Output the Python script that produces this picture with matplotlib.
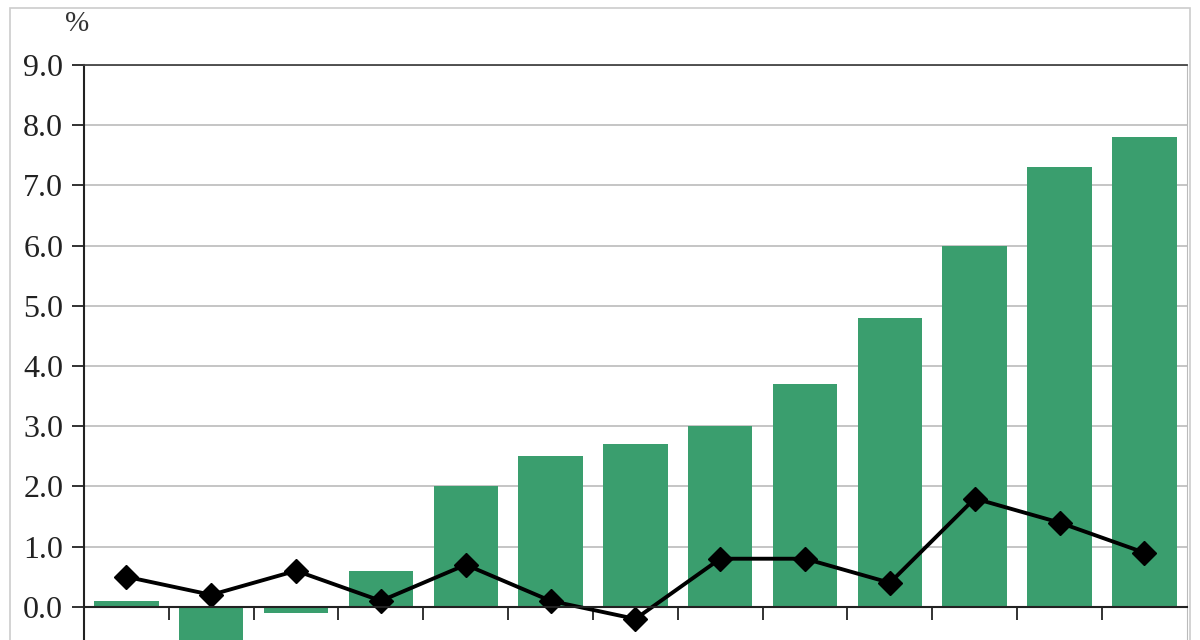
import matplotlib
matplotlib.use("Agg")
import matplotlib.pyplot as plt
from matplotlib.patches import Rectangle
import numpy as np

# 13 periods, no category labels shown on the original
periods = list(range(1, 14))
bar_values = [0.1, -0.7, -0.1, 0.6, 2.0, 2.5, 2.7, 3.0, 3.7, 4.8, 6.0, 7.3, 7.8]
line_values = [0.5, 0.2, 0.6, 0.1, 0.7, 0.1, -0.2, 0.8, 0.8, 0.4, 1.8, 1.4, 0.9]
y_ticks = [0.0, 1.0, 2.0, 3.0, 4.0, 5.0, 6.0, 7.0, 8.0, 9.0]

plt.rcParams['font.family'] = ['Liberation Serif', 'DejaVu Serif']

fig = plt.figure(figsize=(12, 6.4), dpi=100)
ax = fig.add_axes([0.07, 0.0, 0.919, 0.8984])

x = np.arange(len(periods))
ax.bar(x, bar_values, width=0.76, color='#3a9e6e', zorder=2)
ax.plot(x, line_values, color='black', lw=2.8, marker='D', markersize=12, zorder=3)

ax.set_xlim(-0.5, len(periods) - 0.5)
ax.set_ylim(-0.55, 9.0)
ax.set_yticks(y_ticks)
ax.set_yticklabels(['{:.1f}'.format(v) for v in y_ticks], fontsize=23, color='#222222')
ax.yaxis.grid(True, color='#bbbbbb', lw=1.2, zorder=0)
ax.set_axisbelow(True)

# x axis sits on zero, ticks between categories pointing down
ax.spines['bottom'].set_position(('data', 0))
ax.spines['bottom'].set_color('#222222')
ax.spines['bottom'].set_linewidth(1.5)
ax.spines['bottom'].set_zorder(4)
ax.set_xticks(np.arange(0.5, len(periods) - 0.5, 1.0))
ax.set_xticklabels([])
ax.tick_params(axis='x', direction='out', length=9, width=1.3, color='#222222')
ax.tick_params(axis='y', direction='out', length=9, width=1.3, color='#222222', pad=6)

ax.spines['left'].set_color('#222222')
ax.spines['left'].set_linewidth(1.5)
ax.spines['top'].set_color('#444444')
ax.spines['top'].set_linewidth(1.3)
ax.spines['right'].set_color('#bbbbbb')

fig.text(0.064, 0.962, '%', fontsize=21, color='#333333', ha='center', va='center')

# light frame around the whole chart
fig.add_artist(Rectangle((0.008, -0.05), 0.984, 1.038, transform=fig.transFigure,
                         fill=False, edgecolor='#cccccc', lw=1.2))

fig.savefig('out.png', dpi=100)
